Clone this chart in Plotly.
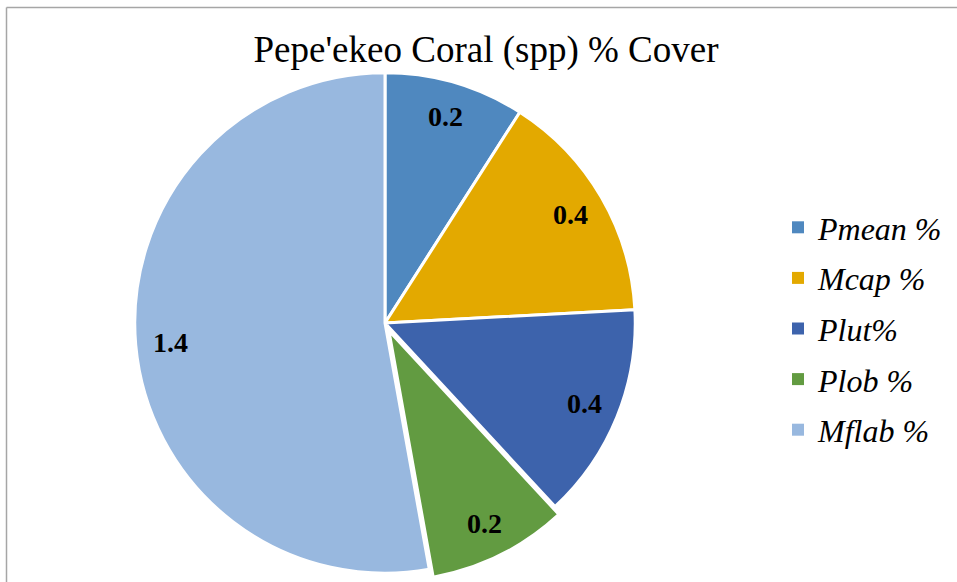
import math
import plotly.graph_objects as go

labels = ["Pmean %", "Mcap %", "Plut%", "Plob %", "Mflab %"]
values = [0.24, 0.40, 0.37, 0.24, 1.40]
colors = ["#4F88BF", "#E3A900", "#3D63AC", "#629B41", "#98B8DF"]
pulls = [0, 0, 0, 0.035, 0]

W, H = 957, 582
CX, CY = 385, 323          # pie centre, px from top-left
HALF = 259                 # half domain size, px
R = HALF / (1 + max(pulls))

fig = go.Figure()
fig.add_trace(go.Pie(
    labels=labels, values=values, sort=False, direction="clockwise", rotation=0,
    marker=dict(colors=colors, line=dict(color="white", width=3)),
    pull=pulls, textinfo="none",
    showlegend=False, hoverinfo="label+value",
    domain=dict(x=[(CX - HALF) / W, (CX + HALF) / W], y=[(H - CY - HALF) / H, (H - CY + HALF) / H]),
))
for lab, col in zip(labels, colors):
    fig.add_trace(go.Scatter(x=[None], y=[None], mode="markers", name=lab, legendgroup=lab,
                             marker=dict(symbol="square", size=12, color=col)))

# data labels placed at slice mid-angles, derived from the values
total = sum(values)
cum = 0.0
annotations = []
for v, p in zip(values, pulls):
    mid = (cum + v / 2) / total * 2 * math.pi
    cum += v
    r = R * (0.86 + p)
    px = CX + r * math.sin(mid)
    py = CY - r * math.cos(mid)
    annotations.append(dict(x=px / W, y=1 - py / H, xref="paper", yref="paper",
                            text=f"{v:.1f}", showarrow=False, xanchor="center", yanchor="middle",
                            font=dict(family="Liberation Serif", size=28, color="black", weight="bold")))

fig.update_layout(
    width=W, height=H, margin=dict(l=0, r=0, t=0, b=0),
    paper_bgcolor="white", plot_bgcolor="white",
    xaxis=dict(visible=False), yaxis=dict(visible=False),
    title=dict(text="Pepe'ekeo Coral (spp) % Cover", x=486 / W, xanchor="center",
               y=1 - 49 / H, yanchor="middle",
               font=dict(family="Liberation Serif", size=37, color="black")),
    legend=dict(x=778 / W, y=1 - 200 / H, xanchor="left", yanchor="top",
                font=dict(family="Liberation Serif", size=32, color="black", style="italic"),
                tracegroupgap=6, bgcolor="rgba(0,0,0,0)"),
    annotations=annotations,
    shapes=[
        dict(type="line", xref="paper", yref="paper", x0=6.5 / W, x1=1, y0=1 - 7.5 / H, y1=1 - 7.5 / H,
             line=dict(color="#A6A6A6", width=1.5)),
        dict(type="line", xref="paper", yref="paper", x0=6.5 / W, x1=6.5 / W, y0=0, y1=1 - 7.5 / H,
             line=dict(color="#A6A6A6", width=1.5)),
    ],
)
fig.write_html("out.html")
